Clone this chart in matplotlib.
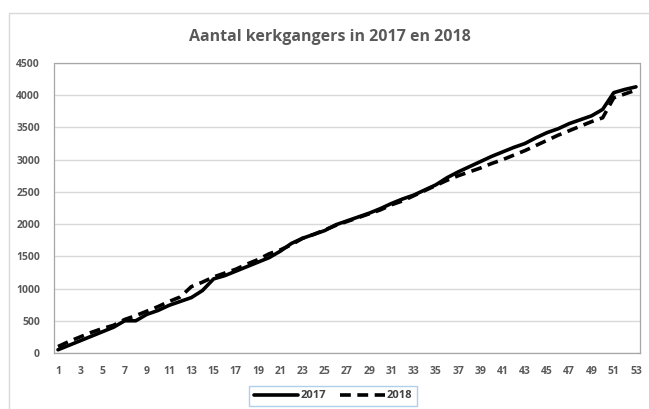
import matplotlib
matplotlib.use("Agg")
import matplotlib.pyplot as plt
from matplotlib.patches import Rectangle

weeks = list(range(1, 54))
y2017 = [50, 120, 190, 260, 330, 400, 500, 500, 600, 660,
         740, 800, 860, 970, 1150, 1200, 1270, 1340, 1410, 1480,
         1580, 1700, 1780, 1840, 1900, 1990, 2050, 2110, 2170, 2240,
         2320, 2390, 2450, 2530, 2610, 2720, 2810, 2890, 2970, 3050,
         3120, 3190, 3250, 3340, 3420, 3480, 3560, 3620, 3680, 3780,
         4040, 4090, 4130]
y2018 = [100, 180, 250, 320, 380, 430, 520, 580, 650, 720,
         800, 870, 1030, 1100, 1180, 1240, 1300, 1380, 1450, 1540,
         1600, 1680, 1780, 1840, 1910, 1980, 2040, 2100, 2160, 2220,
         2300, 2360, 2440, 2520, 2600, 2680, 2750, 2810, 2870, 2940,
         3000, 3070, 3140, 3220, 3300, 3380, 3450, 3520, 3590, 3650,
         3960, 4020, 4080]
xticks = list(range(1, 54, 2))
yticks = list(range(0, 4501, 500))
title = "Aantal kerkgangers in 2017 en 2018"

W, H = 649, 409
fig = plt.figure(figsize=(W / 100, H / 100), dpi=100)
fig.patch.set_facecolor("white")

# chart border
fig.patches.append(Rectangle((9 / W, -0.05), 1.1, 1 - 13 / H + 0.05,
                             transform=fig.transFigure, fill=False,
                             edgecolor="#d9d9d9", linewidth=1))

left, right, top, bottom = 54, 640, 63, 353
ax = fig.add_axes([left / W, 1 - bottom / H, (right - left) / W, (bottom - top) / H])

ax.plot(weeks, y2017, color="black", linewidth=2.6, solid_capstyle="round",
        solid_joinstyle="round", label="2017")
ax.plot(weeks, y2018, color="black", linewidth=2.6, linestyle=(0, (3, 1.8)),
        dash_capstyle="butt", label="2018")

ax.set_xlim(0.64, 53.36)
ax.set_ylim(0, 4500)
ax.set_xticks(xticks)
ax.set_yticks(yticks)
ax.yaxis.grid(True, color="#d9d9d9", linewidth=1)
ax.set_axisbelow(True)
ax.tick_params(length=0, labelsize=7.5, labelcolor="#595959", pad=9)
ax.tick_params(axis="y", pad=10)
for lab in ax.get_xticklabels() + ax.get_yticklabels():
    lab.set_fontweight("bold")
    lab.set_family("Open Sans")
for s in ax.spines.values():
    s.set_linestyle((0, (1, 1)))
    s.set_color("#a6a6a6")
    s.set_linewidth(0.9)

fig.text(330 / W, 1 - 37 / H, title, ha="center", va="center",
         fontsize=11.5, fontweight="bold", color="#595959", family="Open Sans")

leg = fig.legend(loc="center", bbox_to_anchor=(333 / W, 1 - 396 / H), ncol=2,
                 frameon=True, fancybox=False, handlelength=4.0,
                 columnspacing=1.3, handletextpad=0.2, borderpad=0.4,
                 borderaxespad=0,
                 prop={"family": "Open Sans", "weight": "bold", "size": 8})
leg.get_frame().set_edgecolor("#9dc3e6")
leg.get_frame().set_linewidth(1)
for t in leg.get_texts():
    t.set_color("#404040")

fig.savefig("out.png", dpi=100)
